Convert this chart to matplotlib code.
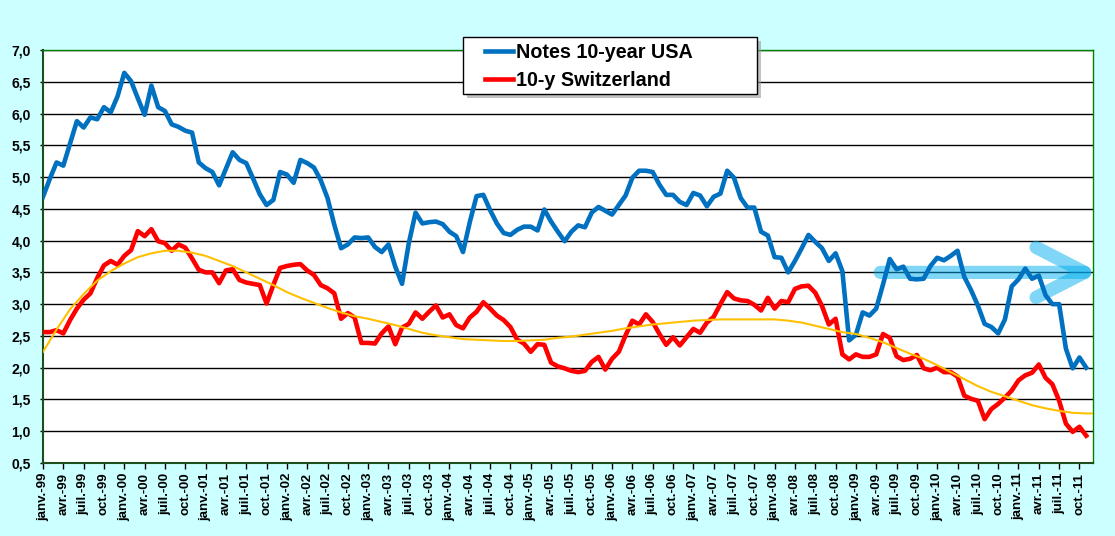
import matplotlib
matplotlib.use('Agg')
import numpy as np
import matplotlib.pyplot as plt
from matplotlib.patches import Rectangle

# monthly 10-year yields, janv.-99 to nov.-11
usa_10y = [
    4.69, 4.97, 5.23, 5.18, 5.53, 5.88, 5.78, 5.94, 5.91, 6.10, 6.02, 6.27,
    6.64, 6.51, 6.24, 5.98, 6.44, 6.10, 6.04, 5.83, 5.79, 5.73, 5.70, 5.23,
    5.14, 5.08, 4.87, 5.13, 5.39, 5.27, 5.22, 4.98, 4.73, 4.56, 4.64, 5.08,
    5.04, 4.91, 5.27, 5.22, 5.15, 4.95, 4.67, 4.25, 3.88, 3.94, 4.05, 4.04,
    4.05, 3.90, 3.82, 3.94, 3.59, 3.32, 3.96, 4.44, 4.27, 4.29, 4.30, 4.26,
    4.14, 4.07, 3.82, 4.29, 4.70, 4.72, 4.48, 4.27, 4.12, 4.09, 4.17, 4.22,
    4.22, 4.16, 4.49, 4.30, 4.14, 3.99, 4.14, 4.24, 4.21, 4.44, 4.53, 4.47,
    4.41, 4.56, 4.71, 4.99, 5.10, 5.10, 5.08, 4.88, 4.72, 4.72, 4.61, 4.56,
    4.75, 4.71, 4.54, 4.69, 4.74, 5.10, 4.99, 4.67, 4.52, 4.52, 4.14, 4.08,
    3.74, 3.73, 3.50, 3.68, 3.88, 4.09, 3.98, 3.88, 3.68, 3.80, 3.52, 2.43,
    2.52, 2.87, 2.82, 2.93, 3.31, 3.71, 3.55, 3.59, 3.40, 3.39, 3.40, 3.60,
    3.73, 3.69, 3.76, 3.84, 3.43, 3.22, 2.98, 2.69, 2.64, 2.54, 2.76, 3.28,
    3.39, 3.56, 3.40, 3.45, 3.14, 3.00, 3.00, 2.30, 1.99, 2.16, 2.00,
]
swiss_10y = [
    2.56, 2.56, 2.59, 2.54, 2.75, 2.93, 3.07, 3.17, 3.41, 3.61, 3.68, 3.62,
    3.76, 3.85, 4.15, 4.07, 4.18, 3.99, 3.96, 3.84, 3.94, 3.89, 3.72, 3.54,
    3.50, 3.50, 3.33, 3.53, 3.55, 3.38, 3.34, 3.32, 3.30, 3.01, 3.30, 3.57,
    3.60, 3.62, 3.63, 3.53, 3.46, 3.30, 3.25, 3.17, 2.77, 2.86, 2.79, 2.39,
    2.39, 2.38, 2.54, 2.65, 2.37, 2.63, 2.69, 2.87, 2.77, 2.88, 2.98, 2.79,
    2.84, 2.67, 2.62, 2.79, 2.88, 3.03, 2.93, 2.82, 2.75, 2.64, 2.44, 2.38,
    2.25, 2.37, 2.36, 2.08, 2.02, 1.99, 1.95, 1.93, 1.95, 2.09, 2.17, 1.97,
    2.14, 2.25, 2.51, 2.74, 2.68, 2.84, 2.72, 2.53, 2.36, 2.48, 2.35, 2.48,
    2.61, 2.55, 2.71, 2.80, 3.00, 3.19, 3.09, 3.06, 3.05, 2.99, 2.90, 3.10,
    2.93, 3.05, 3.03, 3.24, 3.28, 3.29, 3.18, 2.97, 2.68, 2.77, 2.21, 2.13,
    2.21, 2.17, 2.17, 2.21, 2.53, 2.47, 2.18, 2.12, 2.14, 2.20, 1.99, 1.96,
    2.00, 1.93, 1.93, 1.86, 1.56, 1.51, 1.48, 1.19, 1.35, 1.43, 1.53, 1.64,
    1.80, 1.88, 1.92, 2.05, 1.84, 1.74, 1.48, 1.12, 0.99, 1.07, 0.93,
]

# trend curve of the Swiss series, read every second month
trend_month = list(range(0, 156, 2)) + [155]
trend_value = [
    2.25, 2.60, 2.92, 3.16, 3.37, 3.52, 3.64, 3.74, 3.80, 3.84, 3.84, 3.81,
    3.76, 3.68, 3.60, 3.50, 3.40, 3.30, 3.19, 3.10, 3.02, 2.94, 2.87, 2.81,
    2.77, 2.72, 2.67, 2.61, 2.55, 2.51, 2.48, 2.45, 2.44, 2.43, 2.42, 2.42,
    2.43, 2.44, 2.47, 2.49, 2.52, 2.55, 2.58, 2.62, 2.65, 2.68, 2.70, 2.72,
    2.74, 2.75, 2.76, 2.76, 2.76, 2.76, 2.76, 2.74, 2.71, 2.66, 2.61, 2.56,
    2.53, 2.47, 2.40, 2.31, 2.22, 2.14, 2.04, 1.93, 1.82, 1.71, 1.62, 1.55,
    1.48, 1.41, 1.36, 1.32, 1.29, 1.28, 1.28,
]

month_names = ['janv.', 'avr.', 'juil.', 'oct.']
years = ['99', '00', '01', '02', '03', '04', '05', '06', '07', '08', '09', '10', '11']
tick_labels = [f'{m}-{y}' for y in years for m in month_names]

arrow_level = 3.5
arrow_start = 123.6

W, H = 1115, 536
fig = plt.figure(figsize=(W / 100, H / 100), dpi=100, facecolor='#CCFFFF')
ax = fig.add_axes([43 / W, 1 - 463 / H, (1093 - 43) / W, (463 - 50) / H])
ax.set_facecolor('white')

months = np.arange(len(usa_10y))
l_usa, = ax.plot(months, usa_10y, color='#0070C0', lw=3.3, solid_joinstyle='round',
                 label='Notes 10-year USA', zorder=4)
l_ch, = ax.plot(np.arange(len(swiss_10y)), swiss_10y, color='#FF0000', lw=3.3,
                solid_joinstyle='round', label='10-y Switzerland', zorder=4)
ax.plot(trend_month, trend_value, color='#FFC000', lw=1.5, zorder=5)

arr = ax.annotate('', xy=(155.9, arrow_level), xytext=(arrow_start, arrow_level),
                  annotation_clip=False,
                  arrowprops=dict(arrowstyle='->,head_length=3.5,head_width=1.8',
                                  lw=9.5, color='#00AEEF', alpha=0.5,
                                  shrinkA=0, shrinkB=0, mutation_scale=10,
                                  capstyle='round', joinstyle='round'),
                  zorder=3)
arr.arrow_patch.set_clip_box(ax.bbox)
arr.arrow_patch.set_clip_on(True)

ax.set_xlim(0, 155)
ax.set_ylim(0.5, 7.0)
yt = np.arange(0.5, 7.01, 0.5)
ax.set_yticks(yt)
ax.set_yticklabels([f'{v:.1f}'.replace('.', ',') for v in yt],
                   fontfamily='Liberation Sans', fontweight='bold', fontsize=10)
ax.set_xticks(np.arange(0, 155, 3))
ax.set_xticklabels(tick_labels, rotation=90, fontfamily='Liberation Sans',
                   fontweight='bold', fontsize=9.5, va='top', ha='center')
ax.tick_params(axis='x', length=4, width=1, pad=3)
ax.tick_params(axis='y', length=2.2, width=1, pad=6.5)
ax.grid(axis='y', color='black', lw=1.0)
ax.set_axisbelow(True)
for side in ['top', 'right']:
    ax.spines[side].set_color('#008000')
    ax.spines[side].set_linewidth(1.0)
for side in ['left', 'bottom']:
    ax.spines[side].set_color('#1E4D1E')
    ax.spines[side].set_linewidth(1.5)

# legend box with shadow
fig.add_artist(Rectangle(((463 + 4) / W, 1 - (94 + 4) / H), (757 - 463) / W, (94 - 37) / H,
                         transform=fig.transFigure, facecolor='#9A9A9A', edgecolor='none',
                         alpha=0.6, zorder=6))
fig.add_artist(Rectangle((463 / W, 1 - 94 / H), (757 - 463) / W, (94 - 37) / H,
                         transform=fig.transFigure, facecolor='white', edgecolor='black',
                         lw=1.0, zorder=7))
leg = fig.legend(handles=[l_usa, l_ch], loc='upper left', frameon=False,
                 bbox_to_anchor=(485 / W, 1 - 42.5 / H), borderpad=0, borderaxespad=0,
                 handlelength=1.42, handletextpad=0.15, labelspacing=0.5,
                 prop=dict(family='Liberation Sans', weight='bold', size=14.2))
leg.set_zorder(8)

fig.savefig('out.png', dpi=100, facecolor=fig.get_facecolor())
